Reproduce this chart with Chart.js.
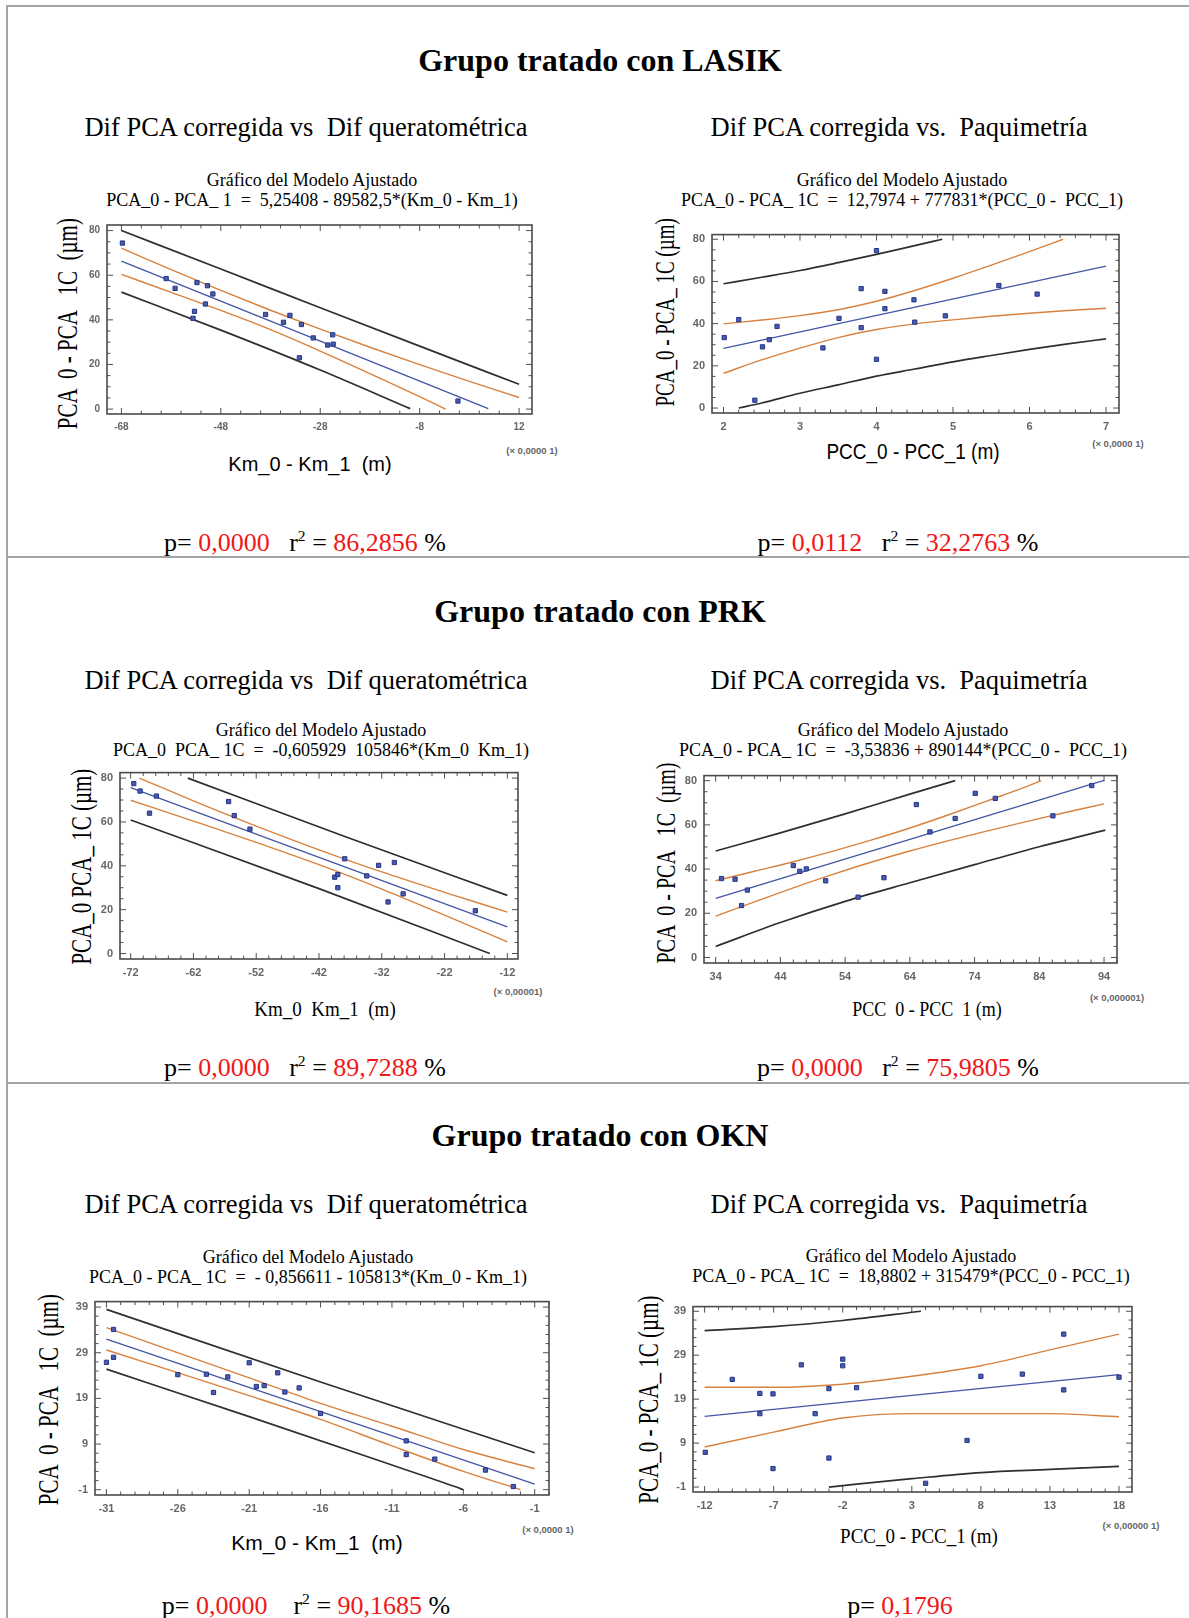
<!DOCTYPE html>
<html>
<head>
<meta charset="utf-8">
<script src="https://cdn.jsdelivr.net/npm/chart.js@4.4.1/dist/chart.umd.min.js"></script>
<style>
  body { margin: 0; background: #fff; }
  #pagina { position: relative; width: 1189px; height: 1618px; overflow: hidden; font-family: "Liberation Serif", "Times New Roman", serif; color: #000; }
  .t { position: absolute; white-space: pre; text-align: center; }
  .rojo { color: #f01818; }
  .sup { font-size: 0.6em; vertical-align: 0.65em; line-height: 0; }
  .regla { position: absolute; background: #a4a4a4; }
  canvas { position: absolute; }
</style>
</head>
<body>
<div id="pagina"></div>
<script>
// ---- Datos (x en unidades del eje, y en µm) ----

// LASIK: Dif PCA vs Dif queratometrica
const lasikKmX = [-67.8, -59.0, -57.2, -52.8, -50.7, -49.6, -51.1, -53.3, -53.6, -39.0, -35.4, -34.1, -31.8, -29.4, -32.2, -25.5, -26.5, -25.4, -0.3];
const lasikKmY = [74.4, 58.5, 54.1, 56.7, 55.3, 51.6, 47.1, 43.8, 40.7, 42.4, 38.9, 42.0, 37.9, 31.9, 23.0, 33.3, 28.7, 29.1, 3.6];
const lasikKmAjuste = [[-68, 66.3], [5.8, 0.2]];
const lasikKmConfSup = [[-68, 72.1], [-58, 62.5], [-48, 53.2], [-38, 44.3], [-28, 35.8], [-18, 27.7], [-8, 19.9], [2, 12.4], [12, 5.2]];
const lasikKmConfInf = [[-68, 60.4], [-58, 52.3], [-48, 44.2], [-38, 35.6], [-28, 26.0], [-18, 15.9], [-8, 5.6], [-2.8, 0]];
const lasikKmPredSup = [[-68, 80], [-48, 62.8], [-28, 45.4], [-8, 28.2], [12, 11.1]];
const lasikKmPredInf = [[-68, 52.4], [-48, 35.4], [-28, 17.5], [-9.9, 0.2]];
const lasikKmTicksX = [-68, -48, -28, -8, 12];
const lasikKmTicksY = [0, 20, 40, 60, 80];

// LASIK: Dif PCA vs paquimetria
const lasikPccX = [2.01, 2.2, 2.41, 2.51, 2.6, 2.7, 3.3, 3.51, 3.8, 3.8, 4.0, 4.0, 4.11, 4.11, 4.49, 4.5, 4.9, 5.6, 6.1];
const lasikPccY = [33.4, 41.9, 3.7, 29.0, 32.4, 38.7, 28.5, 42.5, 56.6, 38.1, 74.6, 23.1, 55.3, 47.1, 51.3, 40.7, 43.7, 58.1, 54.0];
const lasikPccAjuste = [[2, 28.3], [7, 67.3]];
const lasikPccConfSup = [[2, 39.9], [2.5, 41.7], [3, 43.8], [3.5, 46.6], [4, 50.6], [4.5, 55.7], [5, 61.5], [5.5, 67.7], [6, 74.1], [6.44, 80]];
const lasikPccConfInf = [[2, 16.5], [2.5, 22.8], [3, 28.4], [3.5, 33.4], [4, 37.2], [4.5, 39.9], [5, 41.8], [5.5, 43.5], [6, 44.9], [6.5, 46.2], [7, 47.3]];
const lasikPccPredSup = [[2, 58.9], [2.5, 62.0], [3, 65.2], [3.5, 68.9], [4, 72.8], [4.5, 77.0], [4.86, 80]];
const lasikPccPredInf = [[2.2, 0], [2.5, 2.4], [3, 7.0], [3.5, 11.0], [4, 15.1], [4.5, 18.5], [5, 21.9], [5.5, 24.9], [6, 27.8], [6.5, 30.4], [7, 32.8]];
const lasikPccTicksX = [2, 3, 4, 5, 6, 7];
const lasikPccTicksY = [0, 20, 40, 60, 80];

// PRK: Dif PCA vs Dif queratometrica
const prkKmX = [-71.5, -70.5, -67.9, -69.0, -56.4, -55.5, -53.0, -39.5, -39.0, -39.0, -37.9, -34.4, -32.5, -30.0, -31.0, -28.6, -17.1];
const prkKmY = [77.5, 74.1, 71.8, 64.0, 69.3, 62.9, 56.7, 34.8, 36.0, 30.0, 43.2, 35.4, 40.2, 41.5, 23.5, 27.2, 19.5];
const prkKmAjuste = [[-72, 75.6], [-12, 12.1]];
const prkKmConfSup = [[-70.6, 80], [-62, 69.6], [-52, 58.1], [-42, 47.3], [-32, 37.2], [-22, 27.9], [-12, 18.9]];
const prkKmConfInf = [[-72, 69.9], [-62, 60.4], [-52, 50.7], [-42, 40.5], [-32, 29.4], [-22, 17.5], [-12, 5.3]];
const prkKmPredSup = [[-62.9, 80], [-38, 53.5], [-12, 26.5]];
const prkKmPredInf = [[-72, 60.9], [-42, 29.6], [-14.8, 0]];
const prkKmTicksX = [-72, -62, -52, -42, -32, -22, -12];
const prkKmTicksY = [0, 20, 40, 60, 80];

// PRK: Dif PCA vs paquimetria
const prkPccX = [34.9, 37.0, 38.0, 38.9, 46.0, 47.0, 48.0, 51.0, 56.0, 60.0, 65.0, 67.1, 71.0, 74.1, 77.2, 86.1, 92.1];
const prkPccY = [35.7, 35.4, 23.5, 30.5, 41.6, 39.0, 40.1, 34.7, 27.3, 36.1, 69.2, 56.8, 62.9, 74.3, 72.0, 64.1, 77.8];
const prkPccAjuste = [[34, 26.7], [94, 80.1]];
const prkPccConfSup = [[34, 34.7], [40, 39.0], [46, 43.3], [52, 48.0], [58, 53.1], [64, 58.6], [70, 64.6], [76, 70.9], [82, 77.3], [84.3, 80]];
const prkPccConfInf = [[34, 18.7], [40, 25.2], [46, 31.5], [52, 37.5], [58, 43.1], [64, 48.2], [70, 52.9], [76, 57.3], [82, 61.5], [88, 65.6], [94, 69.5]];
const prkPccPredSup = [[34, 48.2], [44, 56.4], [54, 65.0], [64, 73.9], [71, 80]];
const prkPccPredInf = [[34, 5.0], [44, 15.8], [54, 25.4], [64, 33.8], [74, 42.0], [84, 50.1], [94.2, 57.6]];
const prkPccTicksX = [34, 44, 54, 64, 74, 84, 94];
const prkPccTicksY = [0, 20, 40, 60, 80];

// OKN: Dif PCA vs Dif queratometrica
const oknKmX = [-31.0, -30.5, -30.5, -26.0, -24.0, -23.5, -22.5, -21.0, -20.5, -19.95, -19.0, -18.5, -17.5, -16.0, -10.0, -10.0, -8.0, -4.45, -2.5];
const oknKmY = [26.9, 28.0, 34.1, 24.2, 24.3, 20.3, 23.7, 26.8, 21.6, 21.8, 24.6, 20.4, 21.3, 15.7, 9.7, 6.7, 5.7, 3.3, -0.3];
const oknKmAjuste = [[-31, 32.0], [-1, 0.2]];
const oknKmConfSup = [[-31, 34.5], [-21, 23.5], [-16, 17.9], [-11, 12.9], [-6, 7.8], [-1, 3.6]];
const oknKmConfInf = [[-31, 29.6], [-21, 19.6], [-16, 14.4], [-11, 8.6], [-6, 3.0], [-2, -1]];
const oknKmPredSup = [[-31, 38.5], [-16, 22.6], [-1, 7.1]];
const oknKmPredInf = [[-31, 25.4], [-21, 15.0], [-11, 4.4], [-6.6, -0.3], [-6, -1]];
const oknKmTicksX = [-31, -26, -21, -16, -11, -6, -1];
const oknKmTicksY = [-1, 9, 19, 29, 39];

// OKN: Dif PCA vs paquimetria
const oknPccX = [-11.95, -10.0, -8.0, -8.0, -7.05, -7.05, -5.0, -4.0, -3.0, -3.0, -2.0, -2.0, -1.0, 4.0, 7.0, 8.0, 11.0, 14.0, 14.0, 18.0];
const oknPccY = [6.9, 23.5, 20.3, 15.7, 20.2, 3.2, 26.8, 15.7, 21.4, 5.6, 28.1, 26.6, 21.6, -0.15, 9.6, 24.2, 24.7, 33.8, 21.1, 24.0];
const oknPccAjuste = [[-12, 15.1], [18, 24.6]];
const oknPccConfSup = [[-12, 21.7], [-7, 21.7], [-2, 22.4], [3, 24.2], [8, 26.6], [13, 30.2], [18, 33.8]];
const oknPccConfInf = [[-12, 8.1], [-7, 11.5], [-2, 14.7], [3, 15.7], [8, 15.7], [13, 15.7], [18, 15.0]];
const oknPccPredSup = [[-12, 34.6], [-7, 35.5], [-2, 36.9], [3.66, 39]];
const oknPccPredInf = [[-3, -1], [3, 0.9], [8, 2.3], [13, 3.0], [18, 3.7]];
const oknPccTicksX = [-12, -7, -2, 3, 8, 13, 18];
const oknPccTicksY = [-1, 9, 19, 29, 39];

const COLOR_PUNTO = '#4a5cab';
const BORDE_PUNTO = '#233488';
const COLOR_AJUSTE = '#4256a5';
const COLOR_CONF = '#d8823f';
const COLOR_PRED = '#2f2f2f';

const pagina = document.getElementById('pagina');

// texto centrado en (cx, cy)
function texto(html, cx, cy, size, extra) {
    const d = document.createElement('div');
    d.className = 't';
    d.innerHTML = html;
    d.style.left = (cx - 400) + 'px';
    d.style.width = '800px';
    d.style.top = (cy - size * 0.6) + 'px';
    d.style.fontSize = size + 'px';
    d.style.lineHeight = (size * 1.2) + 'px';
    if (extra) Object.assign(d.style, extra);
    pagina.appendChild(d);
    return d;
}

function regla(x, y, w, h) {
    const d = document.createElement('div');
    d.className = 'regla';
    d.style.left = x + 'px';
    d.style.top = y + 'px';
    d.style.width = w + 'px';
    d.style.height = h + 'px';
    pagina.appendChild(d);
}

// marco del grafico con marcas hacia dentro en los cuatro lados
const marcoPlugin = {
    id: 'marco',
    beforeDatasetsDraw(chart, args, opts) {
        const ctx = chart.ctx;
        const a = chart.chartArea;
        ctx.save();
        ctx.strokeStyle = '#505050';
        ctx.lineWidth = 1;
        marcas(ctx, chart.scales.x, opts.ticksX, opts.subX, true, a);
        marcas(ctx, chart.scales.y, opts.ticksY, opts.subY, false, a);
        ctx.lineWidth = 1.6;
        ctx.strokeStyle = '#4a4a4a';
        ctx.strokeRect(a.left, a.top, a.right - a.left, a.bottom - a.top);
        ctx.restore();
    }
};

function marcas(ctx, escala, valores, sub, enX, a) {
    const paso = (valores[1] - valores[0]) / sub;
    const k0 = Math.ceil((escala.min - valores[0]) / paso - 1e-6);
    const k1 = Math.floor((escala.max - valores[0]) / paso + 1e-6);
    for (let k = k0; k <= k1; k++) {
        const px = escala.getPixelForValue(valores[0] + k * paso);
        const largo = (k % sub === 0) ? 6 : 3.5;
        ctx.beginPath();
        if (enX) {
            ctx.moveTo(px, a.bottom); ctx.lineTo(px, a.bottom - largo);
            ctx.moveTo(px, a.top); ctx.lineTo(px, a.top + largo);
        } else {
            ctx.moveTo(a.left, px); ctx.lineTo(a.left + largo, px);
            ctx.moveTo(a.right, px); ctx.lineTo(a.right - largo, px);
        }
        ctx.stroke();
    }
}

function serie(pares, color, ancho) {
    return {
        data: pares.map(p => ({ x: p[0], y: p[1] })),
        showLine: true,
        borderColor: color,
        borderWidth: ancho,
        pointRadius: 0,
        cubicInterpolationMode: 'monotone',
        fill: false
    };
}

function grafico(g) {
    const ancho = g.r - g.l + 55;
    const alto = g.b - g.t + 35;
    const canvas = document.createElement('canvas');
    canvas.width = ancho;
    canvas.height = alto;
    canvas.style.left = (g.l - 45) + 'px';
    canvas.style.top = (g.t - 10) + 'px';
    canvas.style.width = ancho + 'px';
    canvas.style.height = alto + 'px';
    pagina.appendChild(canvas);

    const fuente = { family: 'Liberation Sans', size: g.fuente, weight: 'bold' };
    new Chart(canvas.getContext('2d'), {
        type: 'scatter',
        data: {
            datasets: [
                {
                    data: g.xs.map((x, i) => ({ x: x, y: g.ys[i] })),
                    pointStyle: 'rect',
                    pointRadius: 3,
                    backgroundColor: COLOR_PUNTO,
                    borderColor: BORDE_PUNTO,
                    borderWidth: 1
                },
                serie(g.ajuste, COLOR_AJUSTE, 1.3),
                serie(g.confSup, COLOR_CONF, 1.4),
                serie(g.confInf, COLOR_CONF, 1.4),
                serie(g.predSup, COLOR_PRED, 1.7),
                serie(g.predInf, COLOR_PRED, 1.7)
            ]
        },
        options: {
            responsive: false,
            animation: false,
            devicePixelRatio: 1,
            layout: { padding: { top: 10, right: 10, left: 0, bottom: 0 } },
            plugins: {
                legend: { display: false },
                tooltip: { enabled: false },
                marco: { ticksX: g.ticksX, ticksY: g.ticksY, subX: g.subX, subY: g.subY }
            },
            scales: {
                x: {
                    type: 'linear', min: g.xMin, max: g.xMax,
                    grid: { display: false, drawTicks: false },
                    border: { display: false },
                    ticks: { color: '#666', font: fuente, padding: 7, maxRotation: 0, autoSkip: false, callback: v => String(v) },
                    afterBuildTicks: s => { s.ticks = g.ticksX.map(v => ({ value: v })); },
                    afterFit: s => { s.height = 35; }
                },
                y: {
                    type: 'linear', min: g.yMin, max: g.yMax,
                    grid: { display: false, drawTicks: false },
                    border: { display: false },
                    ticks: { color: '#666', font: fuente, padding: 7, autoSkip: false, callback: v => String(v) },
                    afterBuildTicks: s => { s.ticks = g.ticksY.map(v => ({ value: v })); },
                    afterFit: s => { s.width = 45; }
                }
            }
        },
        plugins: [marcoPlugin]
    });
}

// ---- Marco de la tabla ----
regla(6, 5, 1183, 2);
regla(6, 5, 2, 1613);
regla(6, 556, 1183, 2);
regla(6, 1082, 1183, 2);

// ---- Titulos ----
const negrita = { fontWeight: 'bold' };
texto('Grupo tratado con LASIK', 600, 60, 32, negrita);
texto('Grupo tratado con PRK', 600, 611, 32, negrita);
texto('Grupo tratado con OKN', 600, 1135, 32, negrita);

[128, 681, 1205].forEach(function (y) {
    texto('Dif PCA corregida vs  Dif queratométrica', 306, y, 26.5);
    texto('Dif PCA corregida vs.  Paquimetría', 899, y, 26.5);
});

function lineaP(p, r2, espacio) {
    let s = 'p= <span class="rojo">' + p + '</span>';
    if (r2) s += espacio + 'r<span class="sup">2</span> = <span class="rojo">' + r2 + '</span> %';
    return s;
}
texto(lineaP('0,0000', '86,2856', '   '), 305, 543, 26);
texto(lineaP('0,0112', '32,2763', '   '), 898, 543, 26);
texto(lineaP('0,0000', '89,7288', '   '), 305, 1068, 26);
texto(lineaP('0,0000', '75,9805', '   '), 898, 1068, 26);
texto(lineaP('0,0000', '90,1685', '    '), 306, 1606, 26);
texto(lineaP('0,1796', null, ''), 900, 1606, 26);

// ---- Textos de cada grafico ----
const sans = { fontFamily: '"Liberation Sans", Arial, sans-serif' };
const nota = { fontFamily: '"Liberation Sans", Arial, sans-serif', color: '#666', fontWeight: 'bold' };

function rotulos(cx, cyTit, ecuacion, xLab, xPos, xSize, xEstilo, yLab, yPos, ySize, notaTxt, notaPos) {
    texto('Gráfico del Modelo Ajustado', cx, cyTit, 18);
    texto(ecuacion, cx, cyTit + 20, 18);
    texto(xLab, xPos[0], xPos[1], xSize, xEstilo);
    texto(yLab, yPos[0], yPos[1], ySize, { transform: 'rotate(-90deg) scaleY(1.4)' });
    texto(notaTxt, notaPos[0], notaPos[1], 9.5, nota);
}

rotulos(312, 181, 'PCA_0 - PCA_ 1  =  5,25408 - 89582,5*(Km_0 - Km_1)',
    'Km_0 - Km_1  (m)', [310, 464], 20, sans,
    'PCA  0 - PCA   1C  (µm)', [68, 324], 21, '(× 0,0000 1)', [532, 451]);
rotulos(902, 181, 'PCA_0 - PCA_ 1C  =  12,7974 + 777831*(PCC_0 -  PCC_1)',
    'PCC_0 - PCC_1 (m)', [913, 452], 19, Object.assign({ transform: 'scaleY(1.2)' }, sans),
    'PCA_0 - PCA_ 1C (µm)', [666, 312], 19, '(× 0,0000 1)', [1118, 444]);
rotulos(321, 731, 'PCA_0  PCA_ 1C  =  -0,605929  105846*(Km_0  Km_1)',
    'Km_0  Km_1  (m)', [325, 1009], 19, { transform: 'scaleY(1.15)' },
    'PCA_0 PCA_ 1C (µm)', [82, 867], 21, '(× 0,00001)', [518, 992]);
rotulos(903, 731, 'PCA_0 - PCA_ 1C  =  -3,53836 + 890144*(PCC_0 -  PCC_1)',
    'PCC  0 - PCC  1 (m)', [927, 1010], 18, { transform: 'scaleY(1.2)' },
    'PCA  0 - PCA   1C  (µm)', [665, 863], 20, '(× 0,000001)', [1117, 998]);
rotulos(308, 1258, 'PCA_0 - PCA_ 1C  =  - 0,856611 - 105813*(Km_0 - Km_1)',
    'Km_0 - Km_1  (m)', [317, 1543], 21, sans,
    'PCA  0 - PCA   1C  (µm)', [49, 1400], 21, '(× 0,0000 1)', [548, 1530]);
rotulos(911, 1257, 'PCA_0 - PCA_ 1C  =  18,8802 + 315479*(PCC_0 - PCC_1)',
    'PCC_0 - PCC_1 (m)', [919, 1536], 19, { transform: 'scaleY(1.1)' },
    'PCA_0 - PCA_ 1C (µm)', [649, 1400], 21, '(× 0,00000 1)', [1131, 1526]);

// ---- Graficos ----
grafico({ l: 107, t: 222, r: 532, b: 424, xMin: -70.9, xMax: 14.6, yMin: -2.2, yMax: 82.5, fuente: 10,
    xs: lasikKmX, ys: lasikKmY, ajuste: lasikKmAjuste, confSup: lasikKmConfSup, confInf: lasikKmConfInf,
    predSup: lasikKmPredSup, predInf: lasikKmPredInf, ticksX: lasikKmTicksX, ticksY: lasikKmTicksY, subX: 5, subY: 4 });
grafico({ l: 712, t: 231, r: 1119, b: 423, xMin: 1.85, xMax: 7.17, yMin: -2.35, yMax: 82.2, fuente: 11,
    xs: lasikPccX, ys: lasikPccY, ajuste: lasikPccAjuste, confSup: lasikPccConfSup, confInf: lasikPccConfInf,
    predSup: lasikPccPredSup, predInf: lasikPccPredInf, ticksX: lasikPccTicksX, ticksY: lasikPccTicksY, subX: 5, subY: 4 });
grafico({ l: 120, t: 769, r: 518, b: 969, xMin: -73.7, xMax: -10.3, yMin: -2.5, yMax: 82.5, fuente: 11,
    xs: prkKmX, ys: prkKmY, ajuste: prkKmAjuste, confSup: prkKmConfSup, confInf: prkKmConfInf,
    predSup: prkKmPredSup, predInf: prkKmPredInf, ticksX: prkKmTicksX, ticksY: prkKmTicksY, subX: 5, subY: 4 });
grafico({ l: 704, t: 772, r: 1117, b: 973, xMin: 32.2, xMax: 96, yMin: -2.5, yMax: 82.3, fuente: 11,
    xs: prkPccX, ys: prkPccY, ajuste: prkPccAjuste, confSup: prkPccConfSup, confInf: prkPccConfInf,
    predSup: prkPccPredSup, predInf: prkPccPredInf, ticksX: prkPccTicksX, ticksY: prkPccTicksY, subX: 5, subY: 4 });
grafico({ l: 95, t: 1298, r: 549, b: 1505, xMin: -31.8, xMax: 0, yMin: -2.16, yMax: 40.2, fuente: 11,
    xs: oknKmX, ys: oknKmY, ajuste: oknKmAjuste, confSup: oknKmConfSup, confInf: oknKmConfInf,
    predSup: oknKmPredSup, predInf: oknKmPredInf, ticksX: oknKmTicksX, ticksY: oknKmTicksY, subX: 5, subY: 5 });
grafico({ l: 693, t: 1303, r: 1132, b: 1502, xMin: -12.84, xMax: 18.94, yMin: -2.13, yMax: 40.06, fuente: 11,
    xs: oknPccX, ys: oknPccY, ajuste: oknPccAjuste, confSup: oknPccConfSup, confInf: oknPccConfInf,
    predSup: oknPccPredSup, predInf: oknPccPredInf, ticksX: oknPccTicksX, ticksY: oknPccTicksY, subX: 5, subY: 5 });
</script>
</body>
</html>
